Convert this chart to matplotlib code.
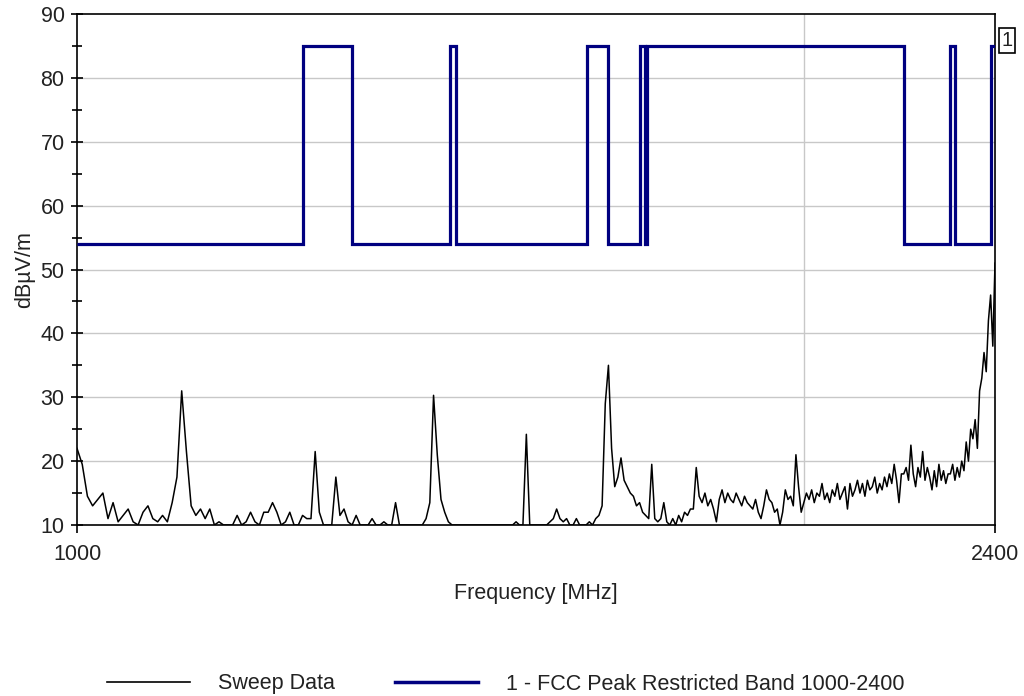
"""Sweep vs. FCC restricted band limit, 1000-2400 MHz (log frequency axis)."""

import numpy as np
import matplotlib
matplotlib.use("Agg")
import matplotlib.pyplot as plt
from matplotlib.lines import Line2D
from matplotlib.patches import Rectangle
from matplotlib.ticker import FixedLocator, NullLocator, MultipleLocator

plt.rcParams["font.family"] = ["Liberation Sans", "DejaVu Sans"]

# Sweep levels (dBuV/m), one value per 5 MHz step from 1000 to 2400 MHz
sweep_level = [
    22, 19.5, 14.5, 13, 14, 15, 11, 13.5, 10.5, 11.5, 12.5, 10.5, 10, 12, 13, 11, 10.5, 11.5, 10.5, 13.5,      # 1000-1095
    17.5, 31, 21.5, 13, 11.5, 12.5, 11, 12.5, 10, 10.5, 10, 10, 10, 11.5, 10, 10.5, 12, 10.5, 10, 12,          # 1100-1195
    12, 13.5, 12, 10, 10.5, 12, 10, 10, 11.5, 11, 11, 21.5, 12, 10, 10, 10, 17.5, 11.5, 12.5, 10.5,            # 1200-1295
    10, 11.5, 10, 10, 10, 11, 10, 10, 10.5, 10, 10, 13.5, 10, 10, 10, 10, 10, 10, 10, 11,                      # 1300-1395
    13.5, 30.3, 21, 14, 12, 10.5, 10, 10, 10, 10, 10, 10, 10, 10, 10, 10, 10, 10, 10, 10,                      # 1400-1495
    10, 10, 10, 10, 10.5, 10, 10, 24.2, 10, 10, 10, 10, 10, 10, 10.5, 11, 12.5, 11, 10.5, 11,                  # 1500-1595
    10, 10, 11, 10, 10, 10, 10.5, 10, 11, 11.5, 13, 29, 35, 22, 16, 17.5, 20.5, 17, 16, 15,                    # 1600-1695
    14.5, 13, 13.5, 12, 11.5, 11, 19.5, 11, 10.5, 11, 13.5, 10.5, 10, 11, 10, 11.5, 10.5, 12, 11.5, 12.5,      # 1700-1795
    12.5, 19, 14.5, 13.5, 15, 13, 14, 12.5, 10.5, 14, 15.5, 13.5, 15, 14, 13.5, 15, 14, 13, 14.5, 13.5,        # 1800-1895
    13, 12.5, 14, 12, 11, 13, 15.5, 14, 13.5, 12, 12.5, 10, 12, 15.5, 14, 14.5, 13, 21, 16, 12,                # 1900-1995
    13.5, 15, 14, 15.5, 13.5, 15, 14.5, 16.5, 14, 15, 13.5, 15.5, 14.5, 16.5, 14, 15, 16, 12.5, 16.5, 14.5,    # 2000-2095
    15.5, 17, 15, 16.5, 14.5, 17, 15.5, 16, 17.5, 15, 16.5, 15.5, 17.5, 16, 18, 16.5, 19.5, 17, 13.5, 18,      # 2100-2195
    18, 19, 17, 22.5, 18, 16, 19, 17.5, 21.5, 17, 19, 17.5, 15.5, 18.5, 16, 19.5, 17, 18.5, 16.5, 18,          # 2200-2295
    18, 19.5, 17, 19, 17.5, 20, 18.5, 23, 20, 25, 23.5, 26.5, 22, 31, 33, 37, 34, 42, 46, 38,                  # 2300-2395
    51,                                                                                                       # 2400
]
sweep_freq = np.linspace(1000, 2400, len(sweep_level))

# FCC limit: band edges (MHz) and the level inside each band (dBuV/m)
band_edges = [1000, 1240, 1300, 1427, 1435, 1626.5, 1660, 1710, 1718.8, 1722.2, 2200, 2300, 2310, 2390, 2400]
band_limit = [54, 85, 54, 85, 54, 85, 54, 85, 54, 85, 54, 85, 54, 85]

x_ticks = [1000, 2400]
y_ticks = [10, 20, 30, 40, 50, 60, 70, 80, 90]

GRID = "#c8c8c8"
NAVY = "#000080"
TEXT = "#222222"
FS = 15.5

fig = plt.figure(figsize=(10.24, 6.96), dpi=100)
ax = fig.add_axes([77 / 1024, 1 - 525 / 696, (995 - 77) / 1024, (525 - 14) / 696])

ax.set_xscale("log")
ax.set_xlim(1000, 2400)
ax.set_ylim(10, 90)

# grid: horizontal at every 10 dB, one vertical line at 2000 MHz
for y in y_ticks[1:-1]:
    ax.axhline(y, color=GRID, lw=1, zorder=0)
ax.axvline(2000, color=GRID, lw=1, zorder=0)

ax.plot(sweep_freq, sweep_level, color="black", lw=1.1, zorder=2)
ax.stairs(band_limit, band_edges, baseline=None, color=NAVY, lw=2.3, zorder=3)

# boxed "1" marker just right of the plot, at the end of the limit line
trans = ax.get_yaxis_transform()
ax.add_patch(Rectangle((1.0044, 83.9), 0.0174, 3.9, transform=trans, clip_on=False,
                       fc="white", ec="black", lw=1.2, zorder=5))
ax.text(1.0131, 85.9, "1", transform=trans, ha="center", va="center",
        fontsize=FS - 1, color=TEXT, clip_on=False, zorder=6)

ax.xaxis.set_major_locator(FixedLocator(x_ticks))
ax.xaxis.set_minor_locator(NullLocator())
ax.set_xticklabels([str(t) for t in x_ticks])
ax.yaxis.set_major_locator(FixedLocator(y_ticks))
ax.yaxis.set_minor_locator(MultipleLocator(5))

ax.tick_params(axis="y", which="major", direction="inout", length=9, width=1.2,
               labelsize=FS, labelcolor=TEXT, pad=4.5)
ax.tick_params(axis="y", which="minor", direction="inout", length=7, width=1.2)
ax.tick_params(axis="x", which="major", direction="out", length=6, width=1.2,
               labelsize=FS, labelcolor=TEXT, pad=8)
for sp in ax.spines.values():
    sp.set_linewidth(1.2)
    sp.set_color("black")

ax.set_xlabel("Frequency [MHz]", fontsize=FS, color=TEXT, labelpad=13)
ax.set_ylabel("dB\u00b5V/m", fontsize=FS, color=TEXT, labelpad=4)

handles = [Line2D([], [], color="black", lw=1.2), Line2D([], [], color=NAVY, lw=2.5)]
fig.legend(handles, ["Sweep Data", "1 - FCC Peak Restricted Band 1000-2400"],
           loc="center left", bbox_to_anchor=(107 / 1024, 1 - 684 / 696), ncol=2,
           frameon=False, fontsize=FS, labelcolor=TEXT, handlelength=3.86,
           handletextpad=1.3, columnspacing=2.8, borderpad=0, borderaxespad=0)

fig.savefig("out.png", dpi=100)
plt.close(fig)
